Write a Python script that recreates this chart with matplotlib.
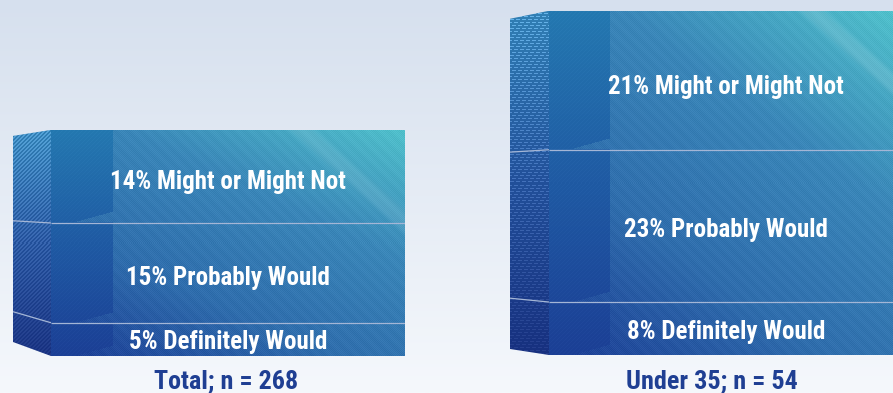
"""Stacked purchase-intent blocks, total sample against under-35s."""

import numpy as np
import matplotlib
matplotlib.use("Agg")
import matplotlib.pyplot as plt
from matplotlib.colors import LinearSegmentedColormap
from matplotlib.patches import Polygon

# --- Data (stacked bottom to top) ---
segment_names = ["Definitely Would", "Probably Would", "Might or Might Not"]
total_values = [5, 15, 14]
under35_values = [8, 23, 21]
total_label = "Total; n = 268"
under35_label = "Under 35; n = 54"

# --- Canvas ---
W, H = 893, 393
FONT = ["Roboto Condensed", "Archivo Narrow", "Asap Condensed", "Roboto", "DejaVu Sans"]
NAVY = "#1f3f93"

face_cmap = LinearSegmentedColormap.from_list(
    "face", ["#1c3d95", "#2f6dac", "#3a86b8", "#50c0cb"])
band_cmap = LinearSegmentedColormap.from_list(
    "band", ["#1b3f95", "#1f5aa3", "#2478b0"])
side_cmap = LinearSegmentedColormap.from_list(
    "side", ["#17307f", "#22509a", "#3180b5"])


def front_image(w, h, streak_at, streak_gain):
    yy, xx = np.mgrid[0:h, 0:w]
    u = xx / max(w - 1, 1)
    v = 1 - yy / max(h - 1, 1)
    t = 0.42 * u + 0.58 * v
    img = face_cmap(t)[..., :3]

    # fine diagonal weave and a coarser slanted sheen
    weave = ((xx + yy) % 2 == 0) * 0.035 - 0.015
    sheen = 0.008 * np.sin((xx - yy) * 2 * np.pi / 13)
    img = img + (weave + sheen)[..., None]

    # pale streak running down to the right across the top corner
    d = (xx - streak_at) - yy * 1.12
    streak = np.exp(-(d / 13.0) ** 4) * streak_gain
    img = img + (1 - img) * streak[..., None]
    return np.clip(img, 0, 1)


def band_image(w, h, seg_rows):
    yy, xx = np.mgrid[0:h, 0:w]
    v = 1 - yy / max(h - 1, 1)
    rgb = band_cmap(v)[..., :3]
    rgb = np.clip(rgb + (((xx + yy) % 4 == 0) * 0.015)[..., None], 0, 1)

    # each segment's band is cut away in a slanted wedge at its lower right
    alpha = np.ones((h, w))
    x0 = 0.35 * w
    rise = np.clip((xx - x0) / (w - x0), 0, None) * 11
    for row in seg_rows:
        alpha[(yy < row) & (yy > row - rise)] = 0
    return np.dstack([rgb, alpha])


def side_image(w, h, brick):
    yy, xx = np.mgrid[0:h, 0:w]
    v = 1 - yy / max(h - 1, 1)
    img = side_cmap(v)[..., :3]
    if brick:
        # rows of short pale dashes
        mark = (yy % 3 == 0) & ((xx + 2 * (yy // 3)) % 6 < 4)
        gain = 0.05 + 0.16 * v
    else:
        mark = (xx + yy) % 4 < 2
        gain = 0.04 + 0.10 * v
    return np.clip(img + (mark * gain)[..., None], 0, 1)


def draw_block(fig, values, caption, front_left, front_right, side_left, bottom_px,
               px_per_pct, top_drop, bottom_rise, band_w, streak_at, streak_gain,
               label_cx, caption_cx, nudge, brick):
    total = sum(values)
    height_px = total * px_per_pct
    w = front_right - side_left
    side_w = front_left - side_left
    ax = fig.add_axes([side_left / W, (H - bottom_px) / H, w / W, height_px / H])
    ax.axis("off")

    edges = np.concatenate([[0], np.cumsum(values)])
    h = int(round(height_px))
    seg_rows = [h - e * px_per_pct for e in edges[:-1]]

    # receding left face, its corners pulled in toward the vanishing side
    low = bottom_rise / px_per_pct
    high = total - top_drop / px_per_pct
    side_y = low + edges / total * (high - low)
    side_poly = Polygon([(0, low), (side_w, 0), (side_w, total), (0, high)],
                        closed=True, transform=ax.transData, fc="none", ec="none")
    ax.add_patch(side_poly)
    im = ax.imshow(side_image(side_w, h, brick), extent=(0, side_w, 0, total),
                   aspect="auto", interpolation="nearest")
    im.set_clip_path(side_poly)

    # front face and its darker upright band
    ax.imshow(front_image(front_right - front_left, h, streak_at, streak_gain),
              extent=(side_w, w, 0, total), aspect="auto", interpolation="nearest")
    ax.imshow(band_image(band_w, h, seg_rows), extent=(side_w, side_w + band_w, 0, total),
              aspect="auto", interpolation="nearest")
    ax.set_xlim(0, w)
    ax.set_ylim(0, total)

    # segment dividers wrap round from the side onto the front
    for i in range(1, len(values)):
        ax.plot([0, side_w], [side_y[i], edges[i]], color="#a4b6d6", lw=0.9,
                solid_capstyle="butt")
        ax.plot([side_w, w], [edges[i], edges[i]], color="#a4b6d6", lw=0.9,
                solid_capstyle="butt")

    for i, (val, name) in enumerate(zip(values, segment_names)):
        y = (edges[i] + edges[i + 1]) / 2
        ax.annotate(f"{val}% {name}", xy=(label_cx - side_left, y),
                    xytext=(0, nudge[i]), textcoords="offset points",
                    ha="center", va="center", color="white", fontsize=18,
                    fontweight="bold", family=FONT)

    ax.annotate(caption, xy=(caption_cx - side_left, 0),
                xytext=(0, (bottom_px - 381) * 0.72), textcoords="offset points",
                ha="center", va="center", color=NAVY, fontsize=18.8,
                fontweight="bold", family=FONT, annotation_clip=False)


fig = plt.figure(figsize=(W / 100, H / 100), dpi=100)

# pale page wash, darker at the top
bg = fig.add_axes([0, 0, 1, 1])
bg.imshow(np.linspace(0, 1, H)[:, None, None] * np.array([[[31, 24, 14]]]) / 255
          + np.array([[[214, 224, 238]]]) / 255, aspect="auto")
bg.axis("off")

draw_block(fig, total_values, total_label, 51, 405, 13, 356, 6.65, 6, 14, 62, 250, 0.09,
           228, 226, [-1.7, -3.7, -4.2], False)
draw_block(fig, under35_values, under35_label, 549, 893, 510, 355, 6.62, 8, 6, 61, 262, 0.12,
           726, 712, [-2.5, -3.0, -5.0], True)

fig.savefig("out.png", dpi=100)
